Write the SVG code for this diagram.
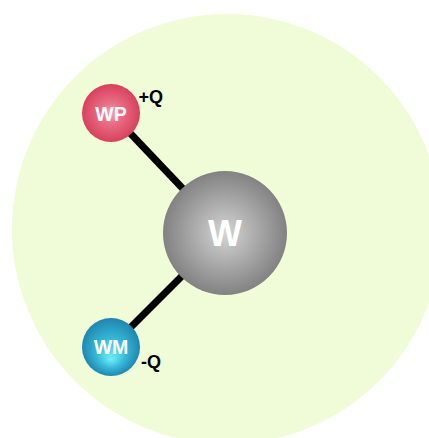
<svg xmlns="http://www.w3.org/2000/svg" width="429" height="438" viewBox="0 0 429 438">
  <defs>
    <radialGradient id="gradW" cx="50%" cy="50%" r="50%">
      <stop offset="0" stop-color="#d4d4d4"/>
      <stop offset="1" stop-color="#828282"/>
    </radialGradient>
    <radialGradient id="gradWP" cx="50%" cy="50%" r="50%">
      <stop offset="0" stop-color="#f4a4b4"/>
      <stop offset="0.35" stop-color="#ea7088"/>
      <stop offset="1" stop-color="#d8405c"/>
    </radialGradient>
    <radialGradient id="gradWM" cx="50%" cy="50%" r="50%" fx="50%" fy="72%">
      <stop offset="0" stop-color="#70eef8"/>
      <stop offset="0.5" stop-color="#38b8d8"/>
      <stop offset="1" stop-color="#1e86b0"/>
    </radialGradient>
    <style>
      .bond { stroke: #000; stroke-width: 7; stroke-linecap: butt; }
      .label { font-family: "Liberation Sans", Arial, sans-serif; font-weight: bold; fill: #fff; text-anchor: middle; }
      .charge { font-family: "Liberation Sans", Arial, sans-serif; font-weight: bold; fill: #000; font-size: 18px; }
    </style>
  </defs>

  <!-- cutoff sphere -->
  <circle cx="227" cy="229" r="215" fill="#f0fbd7"/>

  <!-- bonds -->
  <g id="connectors">
    <line class="bond" x1="111" y1="113" x2="225" y2="233"/>
    <line class="bond" x1="111" y1="347" x2="225" y2="233"/>
  </g>

  <g id="W">
    <circle cx="225" cy="233" r="62" fill="url(#gradW)"/>
    <text class="label" x="225" y="246" font-size="36">W</text>
  </g>

  <g id="WP">
    <circle cx="111" cy="113" r="29" fill="url(#gradWP)"/>
    <text class="label" x="111" y="120.5" font-size="19.5">WP</text>
    <text class="charge" x="138.5" y="103">+Q</text>
  </g>

  <g id="WM">
    <circle cx="111" cy="347" r="29" fill="url(#gradWM)"/>
    <text class="label" x="111" y="354" font-size="19.5">WM</text>
    <text class="charge" x="141" y="368">-Q</text>
  </g>
</svg>
